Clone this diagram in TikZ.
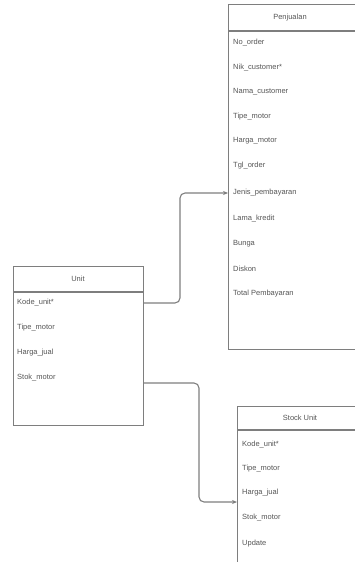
\documentclass[tikz,border=0pt]{standalone}
\usepackage{fontspec}
\setmainfont{Liberation Sans}
\usetikzlibrary{arrows.meta,positioning}
\definecolor{linec}{HTML}{7E7E7E}
\definecolor{textc}{HTML}{555555}
\tikzset{
  tbl/.style={draw=linec, line width=1.1pt, fill=white, inner sep=0pt},
  sep/.style={draw=linec, line width=1.1pt},
  row/.style={anchor=west, inner sep=0pt, text=textc, font=\fontsize{7.5}{9}\selectfont},
  hdr/.style={inner sep=0pt, text=textc, font=\fontsize{7.5}{9}\selectfont},
  conn/.style={draw=linec, line width=1.1pt, rounded corners=5pt, -{Stealth[length=5pt,width=4pt]}}
}
\begin{document}
\begin{tikzpicture}[x=1pt,y=-1pt]
\useasboundingbox (0,0) rectangle (355,562);
\clip (0,0) rectangle (355,562);
% Penjualan
\node[tbl, anchor=north west, minimum width=140pt, minimum height=345pt] (pj) at (228,4) {};
\draw[sep] (228,31) -- (368,31);
\node[hdr] (pjh) at (290,18) {Penjualan};
\node[row] (p1) at (233,43) {No\_order};
\node[row] (p2) at (233,68) {Nik\_customer*};
\node[row] (p3) at (233,92) {Nama\_customer};
\node[row] (p4) at (233,117) {Tipe\_motor};
\node[row] (p5) at (233,141) {Harga\_motor};
\node[row] (p6) at (233,166) {Tgl\_order};
\node[row] (p7) at (233,193) {Jenis\_pembayaran};
\node[row] (p8) at (233,219) {Lama\_kredit};
\node[row] (p9) at (233,244) {Bunga};
\node[row] (p10) at (233,269) {Diskon};
\node[row] (p11) at (233,294) {Total Pembayaran};
% Unit
\node[tbl, anchor=north west, minimum width=130pt, minimum height=159pt] (un) at (13,266) {};
\draw[sep] (13,292) -- (143,292);
\node[hdr] (unh) at (78,279) {Unit};
\node[row] (u1) at (17,303) {Kode\_unit*};
\node[row] (u2) at (17,328) {Tipe\_motor};
\node[row] (u3) at (17,353) {Harga\_jual};
\node[row] (u4) at (17,378) {Stok\_motor};
% Stock Unit
\node[tbl, anchor=north west, minimum width=130pt, minimum height=160pt] (su) at (237,406) {};
\draw[sep] (237,430) -- (367,430);
\node[hdr] (suh) at (300,418) {Stock Unit};
\node[row] (s1) at (242,445) {Kode\_unit*};
\node[row] (s2) at (242,469) {Tipe\_motor};
\node[row] (s3) at (242,493) {Harga\_jual};
\node[row] (s4) at (242,518) {Stok\_motor};
\node[row] (s5) at (242,544) {Update};
% connectors
\coordinate (c1) at (180,0);
\coordinate (c2) at (199,0);
\draw[conn] (un.east |- 0,303) -- (c1 |- 0,303) -- (c1 |- p7) -- (pj.west |- p7);
\draw[conn] (un.east |- 0,383) -- (c2 |- 0,383) -- (c2 |- 0,502) -- (su.west |- 0,502);
\end{tikzpicture}
\end{document}
